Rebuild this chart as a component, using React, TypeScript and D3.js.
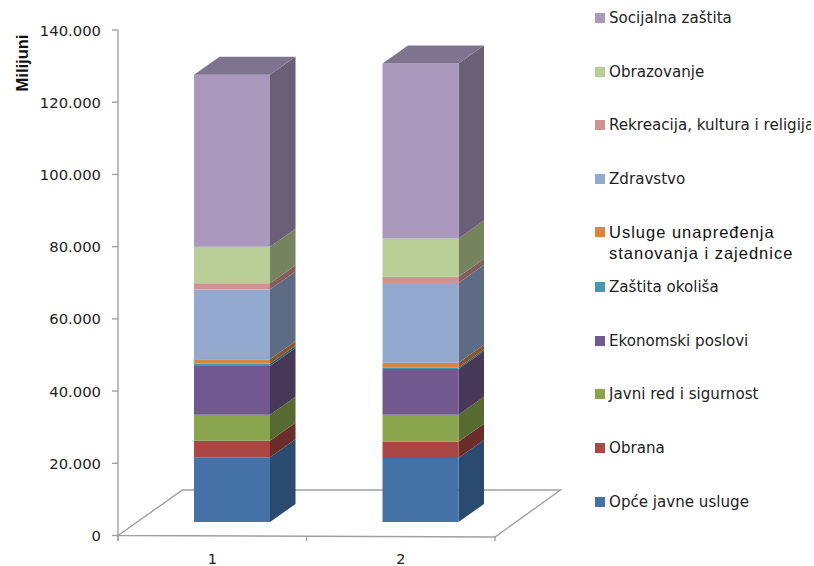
import React from "react";
import * as d3 from "d3";

const categories = ["1", "2"];
const seriesNames = [
  "Opće javne usluge", "Obrana", "Javni red i sigurnost", "Ekonomski poslovi", "Zaštita okoliša",
  "Usluge unapređenja stanovanja i zajednice", "Zdravstvo", "Rekreacija, kultura i religija", "Obrazovanje", "Socijalna zaštita",
];
const values1 = [17900, 4600, 7200, 13500, 600, 1300, 19300, 1700, 10100, 47700];
const values2 = [17700, 4500, 7500, 12700, 400, 1300, 22100, 1700, 10600, 48500];
const frontColors = ["#4471a6", "#aa4643", "#89a54e", "#71588f", "#4198af", "#db843d", "#93a9cf", "#d19392", "#b9cd96", "#aa99bd"];
const sideColors = ["#2b4a6f", "#6b2d2a", "#576a32", "#483858", "#296170", "#8c5427", "#5d6c84", "#855d5d", "#76835f", "#6b5f78"];
const topColor = "#7f7490";
const yTicks = [0, 20000, 40000, 60000, 80000, 100000, 120000, 140000];
const tickLabels = ["0", "20.000", "40.000", "60.000", "80.000", "100.000", "120.000", "140.000"];
const legendRows = [18, 72, 125, 179, 232, 287, 341, 394, 448, 502];

const FONT = "'DejaVu Sans', sans-serif";
const AXIS = "#a0a0a0";

export default function App() {
  const x = d3.scaleBand<string>().domain(categories).range([118, 495]);
  const y = d3.scaleLinear().domain([0, 140000]).range([535.5, 30]);
  const floorShift = 13.5, barOffset = 76, barW = 76, dx = 25.5, dy = -18;

  const rows = categories.map((c, i) => {
    const o: Record<string, number | string> = { c };
    seriesNames.forEach((s, j) => { o[s] = (i === 0 ? values1 : values2)[j]; });
    return o;
  });
  const stacked = d3.stack<Record<string, number | string>>().keys(seriesNames)(rows as any);
  const line = d3.line();
  const poly = (p: [number, number][]) => (line(p) as string) + "Z";

  return (
    <svg width={814} height={566} style={{ position: "absolute", left: 0, top: 0, display: "block" }}>
      <defs>
        <clipPath id="clipLegend"><rect x={0} y={0} width={811} height={566} /></clipPath>
      </defs>
      <rect width={814} height={566} fill="#fff" />
      {/* floor */}
      <path d={poly([[118, 535.5], [182.5, 490], [560.5, 490], [495, 537]])} fill="none" stroke={AXIS} strokeWidth={1.4} />
      {/* y axis */}
      <line x1={118} x2={118} y1={30} y2={541} stroke={AXIS} strokeWidth={1.4} />
      {yTicks.map((t, i) => (
        <g key={t}>
          <line x1={112} x2={118} y1={y(t)} y2={y(t)} stroke={AXIS} strokeWidth={1.4} />
          <text x={101} y={y(t) + 5.5} textAnchor="end" fontFamily={FONT} fontSize={14.8} fill="#222">{tickLabels[i]}</text>
        </g>
      ))}
      <text transform="translate(28,63) rotate(-90)" textAnchor="middle" fontFamily="'Liberation Sans', sans-serif" fontWeight={700} fontSize={16.5} fill="#111">Milijuni</text>
      {/* x axis ticks */}
      {[118, 306.5, 495].map(t => (
        <line key={t} x1={t} x2={t} y1={536} y2={541} stroke={AXIS} strokeWidth={1.4} />
      ))}
      {categories.map(c => (
        <text key={c} x={(x(c) as number) + x.bandwidth() / 2} y={564} textAnchor="middle" fontFamily={FONT} fontSize={14.5} fill="#222">{c}</text>
      ))}
      {/* bars */}
      {categories.map((c, i) => {
        const x0 = (x(c) as number) + barOffset;
        const x1 = x0 + barW;
        const top = y(stacked[stacked.length - 1][i][1]) - floorShift;
        return (
          <g key={c}>
            {stacked.map((s, j) => {
              const yb = y(s[i][0]) - floorShift, yt = y(s[i][1]) - floorShift;
              return (
                <g key={s.key}>
                  <path d={poly([[x1, yb], [x1 + dx, yb + dy], [x1 + dx, yt + dy], [x1, yt]])} fill={sideColors[j]} />
                  <path d={poly([[x0, yb], [x1, yb], [x1, yt], [x0, yt]])} fill={frontColors[j]} />
                </g>
              );
            })}
            <path d={poly([[x0, top], [x1, top], [x1 + dx, top + dy], [x0 + dx, top + dy]])} fill={topColor} />
          </g>
        );
      })}
      {/* legend */}
      <g clipPath="url(#clipLegend)">
        {seriesNames.map((_, k) => {
          const j = seriesNames.length - 1 - k;
          const ly = legendRows[k];
          const name = seriesNames[j];
          const twoLine = name.startsWith("Usluge");
          return (
            <g key={name}>
              <rect x={595} y={ly - 5} width={10} height={10} fill={frontColors[j]} />
              {twoLine ? (
                <text fontFamily="'Liberation Sans', sans-serif" fontSize={16.5} letterSpacing={1} fill="#111">
                  <tspan x={609} y={ly + 5.5}>Usluge unapređenja</tspan>
                  <tspan x={609} y={ly + 27}>stanovanja i zajednice</tspan>
                </text>
              ) : (
                <text x={609} y={ly + 5} fontFamily={FONT} fontSize={15.1} fill="#222">{name}</text>
              )}
            </g>
          );
        })}
      </g>
    </svg>
  );
}
